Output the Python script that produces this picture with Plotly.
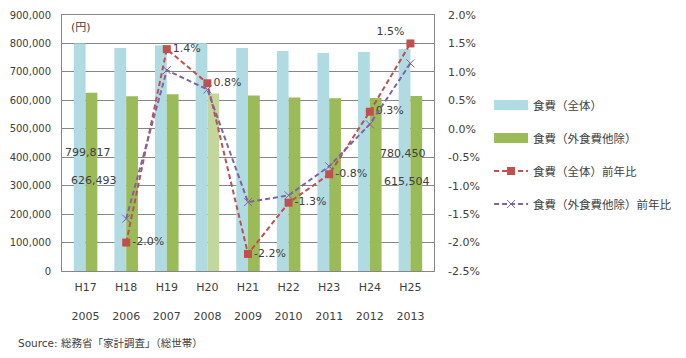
import plotly.graph_objects as go

era_labels = ["H17", "H18", "H19", "H20", "H21", "H22", "H23", "H24", "H25"]
years = ["2005", "2006", "2007", "2008", "2009", "2010", "2011", "2012", "2013"]
food_total = [799817, 784000, 794000, 801000, 784000, 773000, 766000, 770000, 780450]
food_excl = [626493, 614000, 621000, 624000, 617000, 610000, 607000, 608000, 615504]
yoy_total = [None, -2.0, 1.4, 0.8, -2.2, -1.3, -0.8, 0.3, 1.5]
yoy_excl = [None, -1.58, 1.03, 0.69, -1.29, -1.17, -0.66, 0.08, 1.15]
left_ticks = [0, 100000, 200000, 300000, 400000, 500000, 600000, 700000, 800000, 900000]
right_ticks = [-2.5, -2.0, -1.5, -1.0, -0.5, 0.0, 0.5, 1.0, 1.5, 2.0]

FONT = "DejaVu Sans, Noto Sans CJK JP, sans-serif"
TXT = "#404040"
BLUE = "#b0dbe3"
GREEN = "#9bbb59"
RED = "#c0504d"
PURPLE = "#8064a2"
DASH = "5px,3px"

cats = [f"{e}<br><br>{y}" for e, y in zip(era_labels, years)]

green_colors = [GREEN] * len(years)
green_colors[3] = "#c3d69b"

fig = go.Figure()
fig.add_trace(go.Bar(x=cats, y=food_total, name="食費（全体）",
                     marker=dict(color=BLUE, line=dict(width=0)),
                     showlegend=False))
fig.add_trace(go.Bar(x=cats, y=food_excl, name="食費（外食費他除）",
                     marker=dict(color=green_colors, line=dict(width=0)),
                     showlegend=False))
# legend-only entries drawn as wide swatches
fig.add_trace(go.Scatter(x=[None], y=[None], mode="lines", name="食費（全体）",
                         line=dict(color=BLUE, width=10), legendgroup="a",
                         hoverinfo="skip"))
fig.add_trace(go.Scatter(x=[None], y=[None], mode="lines", name="食費（外食費他除）",
                         line=dict(color=GREEN, width=10), legendgroup="b",
                         hoverinfo="skip"))

pos_total = ["middle right"] * len(years)
pos_total[-1] = "top left"
fig.add_trace(go.Scatter(x=cats, y=yoy_total, name="食費（全体）前年比", yaxis="y2",
                         mode="lines+markers+text",
                         text=["" if v is None else f"{v:.1f}%" for v in yoy_total],
                         textposition=pos_total,
                         textfont=dict(family=FONT, size=11, color=TXT),
                         line=dict(color=RED, width=2, dash=DASH),
                         marker=dict(symbol="square", size=8, color=RED),
                         legendgroup="c", cliponaxis=False))
fig.add_trace(go.Scatter(x=cats, y=yoy_excl, name="食費（外食費他除）前年比", yaxis="y2",
                         mode="lines+markers",
                         line=dict(color=PURPLE, width=2, dash=DASH),
                         marker=dict(symbol="x-thin", size=8, color=PURPLE,
                                     line=dict(color=PURPLE, width=1)),
                         legendgroup="d"))

ann = [
    dict(x=cats[0], y=417000, text="799,817", xshift=2),
    dict(x=cats[0], y=319000, text="626,493", xshift=8),
    dict(x=cats[-1], y=414000, text="780,450", xshift=-7),
    dict(x=cats[-1], y=316000, text="615,504", xshift=-3),
]
annotations = [dict(xref="x", yref="y", showarrow=False,
                    font=dict(family=FONT, size=11, color=TXT), **a) for a in ann]
annotations.append(dict(xref="paper", yref="paper", x=0.02, y=0.95, xanchor="left",
                        yanchor="middle", text="(円)", showarrow=False,
                        font=dict(family=FONT, size=11, color=TXT)))
annotations.append(dict(xref="paper", yref="paper", x=-0.123, y=-0.282, xanchor="left",
                        yanchor="middle", text="Source: 総務省「家計調査」（総世帯）",
                        showarrow=False, font=dict(family=FONT, size=10.5, color=TXT)))

fig.update_layout(
    width=678, height=350,
    margin=dict(l=54, r=252, t=6.5, b=87),
    paper_bgcolor="white", plot_bgcolor="white",
    font=dict(family=FONT, size=11, color=TXT),
    barmode="group", bargap=0.42, bargroupgap=0,
    showlegend=True,
    legend=dict(x=1.148, y=0.705, xanchor="left", yanchor="top",
                font=dict(family=FONT, size=11.5, color=TXT),
                tracegroupgap=14, itemwidth=34, bgcolor="rgba(0,0,0,0)"),
    xaxis=dict(type="category", automargin=False,
               showline=True, linecolor="#868686", mirror=True, ticks="",
               ticklabelstandoff=6, tickfont=dict(size=11)),
    yaxis=dict(range=[0, 900000], tickvals=left_ticks, automargin=False,
               ticktext=[f"{v:,}" for v in left_ticks],
               showgrid=True, gridcolor="#868686", gridwidth=1,
               showline=True, linecolor="#868686", mirror=True, zeroline=False,
               ticks="", ticklabelstandoff=8, tickfont=dict(size=10)),
    yaxis2=dict(range=[-2.5, 2.0], tickvals=right_ticks, automargin=False,
                ticktext=[f"{v:.1f}%" for v in right_ticks],
                overlaying="y", side="right", showgrid=False, zeroline=False,
                ticks="", ticklabelstandoff=13, tickfont=dict(size=11)),
    annotations=annotations,
)
fig.write_html("out.html")
